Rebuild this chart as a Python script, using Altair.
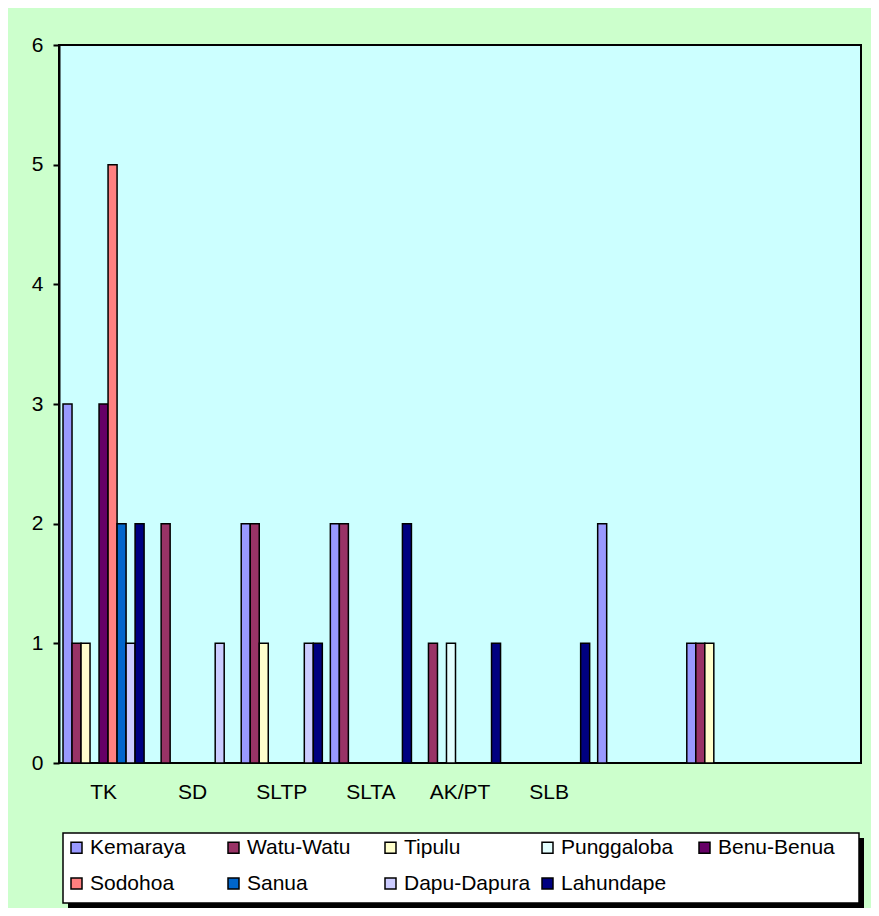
import altair as alt
import pandas as pd

categories = ["TK", "SD", "SLTP", "SLTA", "AK/PT", "SLB", "c7", "c8", "c9"]
series_names = ["Kemaraya", "Watu-Watu", "Tipulu", "Punggaloba", "Benu-Benua",
                "Sodohoa", "Sanua", "Dapu-Dapura", "Lahundape"]
series_colors = ["#9999FF", "#993366", "#FFFFCC", "#E4FFFF", "#660066",
                 "#FF8080", "#0066CC", "#CCCCFF", "#000080"]

kemaraya    = [3, 0, 2, 2, 0, 0, 2, 1, 0]
watu_watu   = [1, 2, 2, 2, 1, 0, 0, 1, 0]
tipulu      = [1, 0, 1, 0, 0, 0, 0, 1, 0]
punggaloba  = [0, 0, 0, 0, 1, 0, 0, 0, 0]
benu_benua  = [3, 0, 0, 0, 0, 0, 0, 0, 0]
sodohoa     = [5, 0, 0, 0, 0, 0, 0, 0, 0]
sanua       = [2, 0, 0, 0, 0, 0, 0, 0, 0]
dapu_dapura = [1, 1, 1, 0, 0, 0, 0, 0, 0]
lahundape   = [2, 0, 1, 2, 1, 1, 0, 0, 0]

all_values = [kemaraya, watu_watu, tipulu, punggaloba, benu_benua,
              sodohoa, sanua, dapu_dapura, lahundape]

rows = []
for name, vals in zip(series_names, all_values):
    for cat, v in zip(categories, vals):
        if v > 0:
            rows.append({"cat": cat, "series": name, "value": v})
df = pd.DataFrame(rows)

FONT = "Liberation Sans"
FS = 21

bars = alt.Chart(df).mark_bar(stroke="black", strokeWidth=1.5).encode(
    x=alt.X("cat:N", sort=categories,
            scale=alt.Scale(domain=categories, paddingInner=0.09, paddingOuter=0.045),
            axis=alt.Axis(title=None, labelAngle=0, ticks=False, domain=False,
                          labelPadding=18, labelFontSize=FS, labelFont=FONT,
                          labelColor="black",
                          labelExpr="indexof(['c7','c8','c9'], datum.value) >= 0 ? '' : datum.value")),
    xOffset=alt.XOffset("series:N", sort=series_names,
                        scale=alt.Scale(domain=series_names, paddingInner=0, paddingOuter=0)),
    y=alt.Y("value:Q", scale=alt.Scale(domain=[0, 6], nice=False),
            axis=alt.Axis(title=None, values=[0, 1, 2, 3, 4, 5, 6], grid=False,
                          tickSize=6, tickColor="black", tickWidth=2,
                          domainColor="black", domainWidth=2,
                          labelPadding=10, labelFontSize=FS, labelFont=FONT,
                          labelColor="black")),
    color=alt.Color("series:N", sort=series_names,
                    scale=alt.Scale(domain=series_names, range=series_colors),
                    legend=alt.Legend(title=None, orient="none", legendX=7, legendY=792,
                                      columns=5, direction="horizontal",
                                      symbolType="square", symbolSize=121,
                                      symbolStrokeColor="black", symbolStrokeWidth=1.5,
                                      symbolOpacity=1,
                                      labelFont=FONT, labelFontSize=FS, labelColor="black",
                                      labelOffset=3, gridAlign="all",
                                      columnPadding=6, rowPadding=14, padding=0)),
)

box_df = pd.DataFrame({"a": [0]})
shadow = alt.Chart(box_df).mark_rect(color="black").encode(
    x=alt.value(9), x2=alt.value(805), y=alt.value(793), y2=alt.value(863))
box = alt.Chart(box_df).mark_rect(fill="white", stroke="black", strokeWidth=1.5).encode(
    x=alt.value(4), x2=alt.value(800), y=alt.value(788), y2=alt.value(858))

chart = alt.layer(shadow, box, bars).properties(
    width=802, height=718,
    background="#CCFFCC",
    padding={"left": 51, "top": 37, "right": 10, "bottom": 145},
    autosize=alt.AutoSizeParams(type="none"),
).configure_view(
    fill="#CCFFFF", stroke="black", strokeWidth=2
)

chart.save("out.html", embed_options={"renderer": "svg", "actions": False})
